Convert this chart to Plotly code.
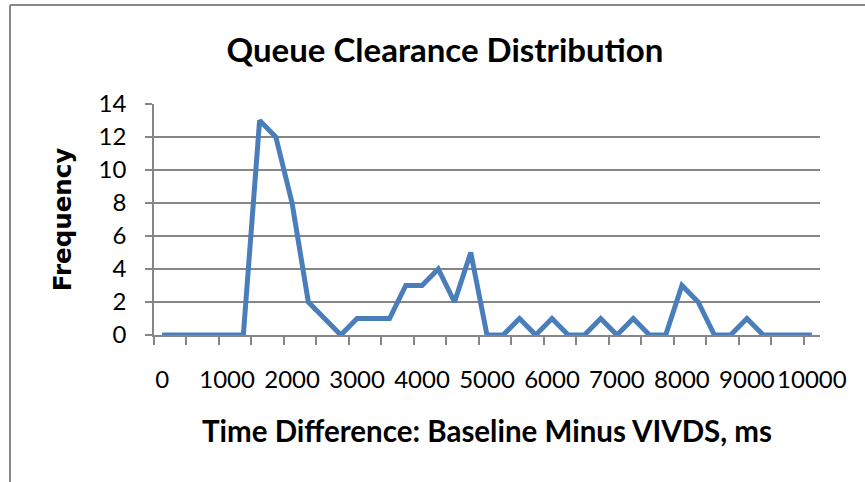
import plotly.graph_objects as go

# Data: time-difference bins (ms) and frequencies
bins_ms = [0, 250, 500, 750, 1000, 1250, 1500, 1750, 2000, 2250, 2500, 2750,
           3000, 3250, 3500, 3750, 4000, 4250, 4500, 4750, 5000, 5250, 5500,
           5750, 6000, 6250, 6500, 6750, 7000, 7250, 7500, 7750, 8000, 8250,
           8500, 8750, 9000, 9250, 9500, 9750, 10000]
frequency = [0, 0, 0, 0, 0, 0, 13, 12, 8, 2, 1, 0, 1, 1, 1, 3, 3, 4, 2, 5,
             0, 0, 1, 0, 1, 0, 0, 1, 0, 1, 0, 0, 3, 2, 0, 0, 1, 0, 0, 0, 0]
x_tick_vals = [0, 1000, 2000, 3000, 4000, 5000, 6000, 7000, 8000, 9000, 10000]
x_tick_text = ["0", "1000", "2000", "3000", "4000", "5000", "6000", "7000",
               "8000", "9000", "10000"]
y_tick_vals = [0, 2, 4, 6, 8, 10, 12, 14]

W, H = 865, 482
ML, MR, MT, MB = 154, 45, 104, 147
PW, PH = W - ML - MR, H - MT - MB

step = bins_ms[1] - bins_ms[0]
x_lo = bins_ms[0] - step / 2
x_hi = bins_ms[-1] + step / 2
minor_vals = [x_lo + 2 * step * k for k in range(21)]


def px_x(p):
    return (p - ML) / PW


def px_y(p):
    return (H - MB - p) / PH


fig = go.Figure()
fig.add_trace(go.Scatter(
    x=bins_ms, y=frequency, mode="lines",
    line=dict(color="#4a7ebb", width=5),
    cliponaxis=False, showlegend=False, hoverinfo="x+y",
))

grid = "#868686"
FONT = "Lato, Calibri, sans-serif"
fig.update_layout(
    width=W, height=H,
    margin=dict(l=ML, r=MR, t=MT, b=MB, autoexpand=False),
    paper_bgcolor="white", plot_bgcolor="white",
    font=dict(family=FONT, color="#000000"),
    title=dict(
        text="<b>Queue Clearance Distribution</b>",
        font=dict(family=FONT, size=33, color="#000000"),
        xref="container", yref="container",
        x=445 / W, xanchor="center", y=1 - 50 / H, yanchor="middle",
    ),
    xaxis=dict(
        range=[x_lo, x_hi], showgrid=False, zeroline=False,
        showline=True, linecolor=grid, linewidth=1.5,
        tickmode="array", tickvals=x_tick_vals, ticktext=x_tick_text,
        ticks="", ticklabelstandoff=22,
        tickfont=dict(size=24, family=FONT),
        minor=dict(tickmode="array", tickvals=minor_vals, ticks="outside",
                   ticklen=8, tickwidth=1.5, tickcolor=grid, showgrid=False),
        title=dict(text="<b>Time Difference: Baseline Minus VIVDS, ms</b>",
                   font=dict(size=29.5, family=FONT),
                   standoff=30),
        layer="below traces",
    ),
    yaxis=dict(
        range=[0, 14], showgrid=True, gridcolor=grid, gridwidth=1.5,
        zeroline=False, showline=True, linecolor=grid, linewidth=1.5,
        tickmode="array", tickvals=y_tick_vals,
        ticks="outside", ticklen=7, tickwidth=1.5, tickcolor=grid,
        ticklabelstandoff=14,
        tickfont=dict(size=24, family=FONT),
        title=dict(text="<b>Frequency</b>",
                   font=dict(size=24.5, family="DejaVu Sans, Verdana, sans-serif"),
                   standoff=20),
        layer="below traces",
    ),
    shapes=[
        dict(type="line", xref="paper", yref="paper",
             x0=px_x(10), x1=px_x(10), y0=px_y(5), y1=px_y(H + 5),
             line=dict(color="#888888", width=2), layer="below"),
        dict(type="line", xref="paper", yref="paper",
             x0=px_x(10), x1=px_x(W + 5), y0=px_y(5), y1=px_y(5),
             line=dict(color="#888888", width=2), layer="below"),
    ],
)

fig.write_html("out.html", config={"displayModeBar": False},
               post_script="document.body.style.margin='0px';")
